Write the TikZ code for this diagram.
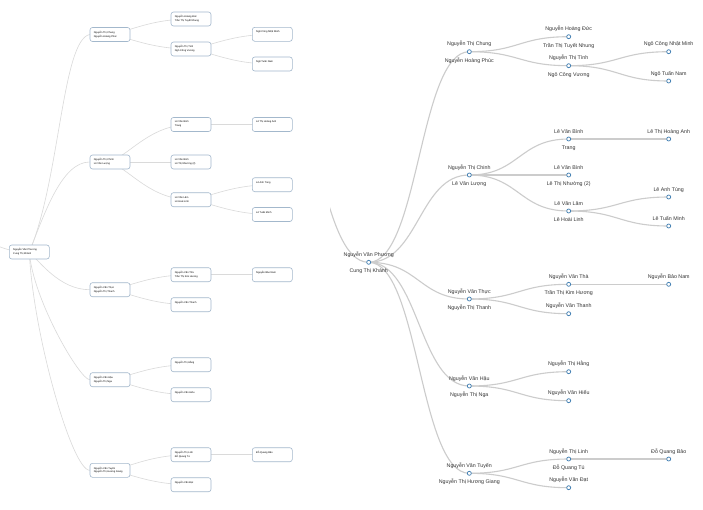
\documentclass[tikz,border=0pt]{standalone}
\usepackage{fontspec}
\setmainfont{Liberation Sans}
\usetikzlibrary{calc,backgrounds}
\definecolor{rlinkc}{HTML}{CCCCCC}
\definecolor{llinkc}{HTML}{DADADA}
\definecolor{circc}{HTML}{4682B4}
\definecolor{boxc}{HTML}{A3B8CC}
\definecolor{txtc}{HTML}{333333}
\newcommand\mkboxnode[3]{\node[lbox] (#1) at (#2) {};
  \node[btxt] (#1-t) at ($(#1.north west)+(4,3.7)$) {#3};}
\newcommand\mkcircA[3]{\node[rnode] (#1) at (#2) {};
  \node[lab] (#1-a) at ($(#1)+(0,-6)$) {#3};}
\newcommand\mkcircB[4]{\node[rnode] (#1) at (#2) {};
  \node[lab] (#1-a) at ($(#1)+(0,-6)$) {#3};
  \node[lab] (#1-b) at ($(#1)+(0,10.3)$) {#4};}
\begin{document}
\begin{tikzpicture}[x=1pt,y=-1pt,
  rlink/.style={draw=rlinkc,line width=1.1pt},
  llink/.style={draw=llinkc,line width=0.6pt},
  rnode/.style={circle,draw=circc,fill=white,line width=0.75pt,minimum size=4pt,inner sep=0pt},
  lab/.style={font=\fontsize{5.3}{6}\selectfont,text=txtc,inner sep=0pt,anchor=base},
  lbox/.style={rectangle,rounded corners=2.5pt,draw=boxc,fill=white,line width=0.6pt,minimum width=40pt,minimum height=14pt,inner sep=0pt},
  btxt/.style={font=\fontsize{2.5}{3.9}\selectfont,align=left,inner sep=0pt,anchor=north west,text=black}
]
\useasboundingbox (0,0) rectangle (703,509);

% ---------- left tree (boxes) ----------
\mkboxnode{lr}{29.3,252}{Nguyễn Văn Phương\\Cung Thị Khánh}
\mkboxnode{la}{110,34.5}{Nguyễn Thị Chung\\Nguyễn Hoàng Phúc}
\mkboxnode{la1}{191,19}{Nguyễn Hoàng Đức\\Trần Thị Tuyết Nhung}
\mkboxnode{la2}{191,49}{Nguyễn Thị Tình\\Ngô Công Vương}
\mkboxnode{la21}{272.3,34.3}{Ngô Công Nhật Minh}
\mkboxnode{la22}{272.3,64}{Ngô Tuấn Nam}
\mkboxnode{lb}{110,162}{Nguyễn Thị Chinh\\Lê Văn Lượng}
\mkboxnode{lb1}{191,124.5}{Lê Văn Bình\\Trang}
\mkboxnode{lb11}{272.3,124.5}{Lê Thị Hoàng Anh}
\mkboxnode{lb2}{191,162}{Lê Văn Bình\\Lê Thị Nhường (2)}
\mkboxnode{lb3}{191,199.7}{Lê Văn Lâm\\Lê Hoài Linh}
\mkboxnode{lb31}{272.3,184.7}{Lê Anh Tùng}
\mkboxnode{lb32}{272.3,214.5}{Lê Tuấn Minh}
\mkboxnode{lc}{110,289.7}{Nguyễn Văn Thực\\Nguyễn Thị Thanh}
\mkboxnode{lc1}{191,274.7}{Nguyễn Văn Thà\\Trần Thị Kim Hương}
\mkboxnode{lc11}{272.3,274.7}{Nguyễn Bảo Nam}
\mkboxnode{lc2}{191,304.7}{Nguyễn Văn Thanh}
\mkboxnode{ld}{110,379.7}{Nguyễn Văn Hậu\\Nguyễn Thị Nga}
\mkboxnode{ld1}{191,364.7}{Nguyễn Thị Hằng}
\mkboxnode{ld2}{191,394.7}{Nguyễn Văn Hiếu}
\mkboxnode{le}{110,470.3}{Nguyễn Văn Tuyến\\Nguyễn Thị Hương Giang}
\mkboxnode{le1}{191,454.7}{Nguyễn Thị Linh\\Đỗ Quang Tú}
\mkboxnode{le11}{272.3,454.7}{Đỗ Quang Bảo}
\mkboxnode{le2}{191,484.7}{Nguyễn Văn Đạt}
\coordinate (lpar) at (-51.7,231);

% ---------- right tree (circles) ----------
\mkcircB{r}{368.7,262.3}{Nguyễn Văn Phương}{Cung Thị Khánh}
\mkcircB{a}{469.3,51.7}{Nguyễn Thị Chung}{Nguyễn Hoàng Phúc}
\mkcircB{a1}{568.7,36.7}{Nguyễn Hoàng Đức}{Trần Thị Tuyết Nhung}
\mkcircB{a2}{568.7,65.7}{Nguyễn Thị Tình}{Ngô Công Vương}
\mkcircA{a21}{668.7,51.7}{Ngô Công Nhật Minh}
\mkcircA{a22}{668.7,81}{Ngô Tuấn Nam}
\mkcircB{b}{469.3,175}{Nguyễn Thị Chinh}{Lê Văn Lượng}
\mkcircB{b1}{568.7,139}{Lê Văn Bình}{Trang}
\mkcircA{b11}{668.7,139}{Lê Thị Hoàng Anh}
\mkcircB{b2}{568.7,175}{Lê Văn Bình}{Lê Thị Nhường (2)}
\mkcircB{b3}{568.7,211}{Lê Văn Lâm}{Lê Hoài Linh}
\mkcircA{b31}{668.7,197}{Lê Anh Tùng}
\mkcircA{b32}{668.7,226}{Lê Tuấn Minh}
\mkcircB{c}{469.3,299}{Nguyễn Văn Thực}{Nguyễn Thị Thanh}
\mkcircB{c1}{568.7,284.3}{Nguyễn Văn Thà}{Trần Thị Kim Hương}
\mkcircA{c11}{668.7,284.3}{Nguyễn Bảo Nam}
\mkcircA{c2}{568.7,313.7}{Nguyễn Văn Thanh}
\mkcircB{d}{469.3,386}{Nguyễn Văn Hậu}{Nguyễn Thị Nga}
\mkcircA{d1}{568.7,371.7}{Nguyễn Thị Hằng}
\mkcircA{d2}{568.7,400.7}{Nguyễn Văn Hiếu}
\mkcircB{e}{469.3,473.3}{Nguyễn Văn Tuyến}{Nguyễn Thị Hương Giang}
\mkcircB{e1}{568.7,459}{Nguyễn Thị Linh}{Đỗ Quang Tú}
\mkcircA{e11}{668.7,459}{Đỗ Quang Bảo}
\mkcircA{e2}{568.7,487.7}{Nguyễn Văn Đạt}
\coordinate (rpar) at (269.7,80);

\begin{pgfonlayer}{background}
\fill[white] (0,0) rectangle (703,509);
% left tree links
\begin{scope}
\clip (0,0) rectangle (320,509);
\draw[llink] (lpar) to[out=0,in=180,distance=40.5pt] (lr.center);
\end{scope}
\draw[llink] (lr.center) .. controls (60,180) and (62,40) .. (la.west);
\draw[llink] (lr.center) .. controls (45,212) and (62,162) .. (lb.west);
\draw[llink] (lr.center) .. controls (40,262) and (60,289.7) .. (lc.west);
\draw[llink] (lr.center) .. controls (33,300) and (80,379.7) .. (ld.west);
\draw[llink] (lr.center) .. controls (33,334) and (72,470.3) .. (le.west);
\draw[llink] (la.center) .. controls ($(la.center)+(22,-3.9)$) and ($(la1.center)+(-40,0)$) .. (la1.center);
\draw[llink] (la.center) .. controls ($(la.center)+(22,3.6)$) and ($(la2.center)+(-40,0)$) .. (la2.center);
\draw[llink] (la2.center) .. controls ($(la2.center)+(22,-3.7)$) and ($(la21.center)+(-40,0)$) .. (la21.center);
\draw[llink] (la2.center) .. controls ($(la2.center)+(22,3.75)$) and ($(la22.center)+(-40,0)$) .. (la22.center);
\draw[llink] (lb.center) .. controls ($(lb.center)+(22,-9.4)$) and ($(lb1.center)+(-40,0)$) .. (lb1.center);
\draw[llink] (lb.center) -- (lb2.center);
\draw[llink] (lb.center) .. controls ($(lb.center)+(22,9.4)$) and ($(lb3.center)+(-40,0)$) .. (lb3.center);
\draw[llink] (lb1.center) -- (lb11.center);
\draw[llink] (lb3.center) .. controls ($(lb3.center)+(22,-3.75)$) and ($(lb31.center)+(-40,0)$) .. (lb31.center);
\draw[llink] (lb3.center) .. controls ($(lb3.center)+(22,3.7)$) and ($(lb32.center)+(-40,0)$) .. (lb32.center);
\draw[llink] (lc.center) .. controls ($(lc.center)+(22,-3.75)$) and ($(lc1.center)+(-40,0)$) .. (lc1.center);
\draw[llink] (lc.center) .. controls ($(lc.center)+(22,3.75)$) and ($(lc2.center)+(-40,0)$) .. (lc2.center);
\draw[llink] (lc1.center) -- (lc11.center);
\draw[llink] (ld.center) .. controls ($(ld.center)+(22,-3.75)$) and ($(ld1.center)+(-40,0)$) .. (ld1.center);
\draw[llink] (ld.center) .. controls ($(ld.center)+(22,3.75)$) and ($(ld2.center)+(-40,0)$) .. (ld2.center);
\draw[llink] (le.center) .. controls ($(le.center)+(22,-3.9)$) and ($(le1.center)+(-40,0)$) .. (le1.center);
\draw[llink] (le.center) .. controls ($(le.center)+(22,3.6)$) and ($(le2.center)+(-40,0)$) .. (le2.center);
\draw[llink] (le1.center) -- (le11.center);
% right tree links
\begin{scope}
\clip (330,0) rectangle (703,509);
\draw[rlink] (rpar) to[out=0,in=180,distance=49.5pt] (r.center);
\end{scope}
\foreach \k in {a,b,c,d,e}{\draw[rlink] (r.center) to[out=0,in=180,distance=50.3pt] (\k.center);}
\foreach \p/\k in {a/a1,a/a2,b/b1,b/b2,b/b3,c/c1,c/c2,d/d1,d/d2,e/e1,e/e2}{\draw[rlink] (\p.center) to[out=0,in=180,distance=49.7pt] (\k.center);}
\foreach \p/\k in {a2/a21,a2/a22,b1/b11,b3/b31,b3/b32,c1/c11,e1/e11}{\draw[rlink] (\p.center) to[out=0,in=180,distance=50pt] (\k.center);}
\end{pgfonlayer}
\end{tikzpicture}
\end{document}
